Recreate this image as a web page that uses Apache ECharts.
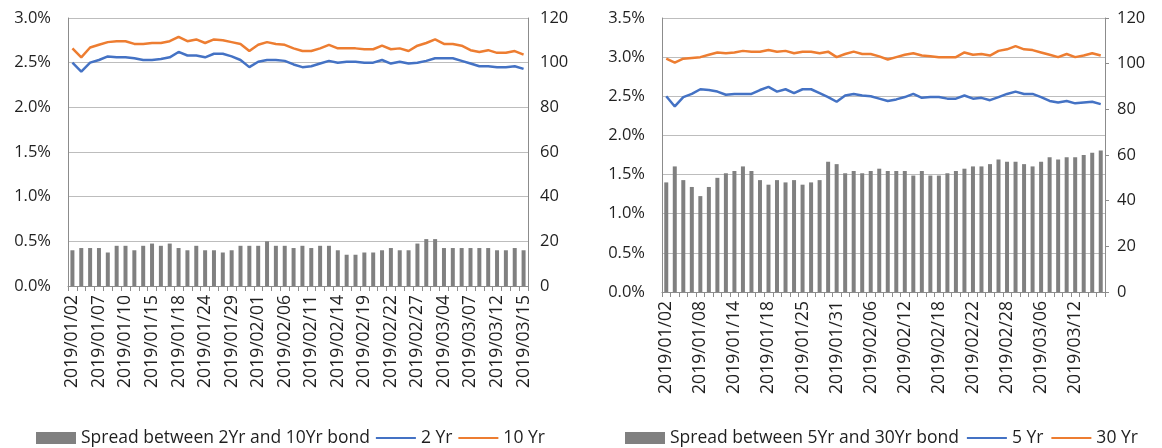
<!DOCTYPE html>
<html>
<head>
<meta charset="utf-8">
<script src="https://cdn.jsdelivr.net/npm/echarts@6/dist/echarts.min.js"></script>
<style>
html,body{margin:0;padding:0;background:#fff;}
#chart{width:1162px;height:448px;}
</style>
</head>
<body>
<div id="chart"></div>
<script>
var dates = ['2019/01/02','2019/01/03','2019/01/04','2019/01/07','2019/01/08','2019/01/09','2019/01/10','2019/01/11','2019/01/14','2019/01/15','2019/01/16','2019/01/17','2019/01/18','2019/01/22','2019/01/23','2019/01/24','2019/01/25','2019/01/28','2019/01/29','2019/01/30','2019/01/31',
'2019/02/01','2019/02/04','2019/02/05','2019/02/06','2019/02/07','2019/02/08','2019/02/11','2019/02/12','2019/02/13','2019/02/14','2019/02/15','2019/02/18','2019/02/19','2019/02/20','2019/02/21','2019/02/22','2019/02/25','2019/02/26','2019/02/27','2019/02/28',
'2019/03/01','2019/03/04','2019/03/05','2019/03/06','2019/03/07','2019/03/08','2019/03/11','2019/03/12','2019/03/13','2019/03/14','2019/03/15'];

// Left chart (percent for yields, bps for spread)
var spread2y10y = [16,17,17,17,15,18,18,16,18,19,18,19,17,16,18,16,16,15,16,18,18,18,20,18,18,17,18,17,18,18,16,14,14,15,15,16,17,16,16,19,21,21,17,17,17,17,17,17,16,16,17,16];
var yield2y = [2.50,2.40,2.50,2.53,2.57,2.56,2.56,2.55,2.53,2.53,2.54,2.56,2.62,2.58,2.58,2.56,2.60,2.60,2.57,2.53,2.45,2.51,2.53,2.53,2.52,2.48,2.45,2.46,2.49,2.52,2.50,2.51,2.51,2.50,2.50,2.53,2.49,2.51,2.49,2.50,2.52,2.55,2.55,2.55,2.52,2.49,2.46,2.46,2.45,2.45,2.46,2.43];
var yield10y = [2.66,2.56,2.67,2.70,2.73,2.74,2.74,2.71,2.71,2.72,2.72,2.74,2.79,2.74,2.76,2.72,2.76,2.75,2.73,2.71,2.63,2.70,2.73,2.71,2.70,2.66,2.63,2.63,2.66,2.70,2.66,2.66,2.66,2.65,2.65,2.69,2.65,2.66,2.63,2.69,2.72,2.76,2.71,2.71,2.69,2.64,2.62,2.64,2.61,2.61,2.63,2.59];

// Right chart
var spread5y30y = [48,55,49,46,42,46,50,52,53,55,53,49,47,49,48,49,47,48,49,57,56,52,53,52,53,54,53,53,53,51,53,51,51,52,53,54,55,55,56,58,57,57,56,55,57,59,58,59,59,60,61,62];
var yield5y = [2.50,2.37,2.49,2.53,2.59,2.58,2.56,2.52,2.53,2.53,2.53,2.58,2.62,2.56,2.59,2.54,2.59,2.59,2.54,2.49,2.43,2.51,2.53,2.51,2.50,2.47,2.44,2.46,2.49,2.53,2.48,2.49,2.49,2.47,2.47,2.51,2.47,2.48,2.45,2.49,2.53,2.56,2.53,2.53,2.49,2.44,2.42,2.44,2.41,2.42,2.43,2.40];
var yield30y = [2.98,2.93,2.98,2.99,3.00,3.03,3.06,3.05,3.06,3.08,3.07,3.07,3.09,3.07,3.08,3.05,3.07,3.07,3.05,3.07,3.00,3.04,3.07,3.04,3.04,3.01,2.97,3.00,3.03,3.05,3.02,3.01,3.00,3.00,3.00,3.06,3.03,3.04,3.02,3.08,3.10,3.14,3.10,3.09,3.06,3.03,3.00,3.04,3.00,3.02,3.05,3.02];

var names = {
  s1: 'Spread between 2Yr and 10Yr bond', a1: '2 Yr', b1: '10 Yr',
  s2: 'Spread between 5Yr and 30Yr bond', a2: '5 Yr', b2: '30 Yr'
};

var FONT = '"Open Sans"';
var TXT = '#1f1f1f';
var AXIS = '#8c8c8c';
var GRIDC = '#bdbdbd';
var BARC = '#808080';
var BLUE = '#4472C4';
var ORANGE = '#ED7D31';

function pct(v){ return v.toFixed(1) + '%'; }

function xAxisCfg(gi, labelInterval){
  return {
    type: 'category', gridIndex: gi, data: dates, boundaryGap: true,
    axisLine: {show: true, lineStyle: {color: AXIS, width: 1}},
    axisTick: {show: true, interval: 0, length: 5, lineStyle: {color: AXIS}},
    axisLabel: {interval: labelInterval, rotate: 90, fontSize: 17.5, fontFamily: FONT, color: TXT, margin: 9},
    splitLine: {show: false}
  };
}

function lineLegend(name){
  return {name: name, itemStyle: {opacity: 0}};
}

var chart = echarts.init(document.getElementById('chart'), null, {renderer: 'canvas'});
chart.setOption({
  animation: false,
  backgroundColor: '#fff',
  grid: [
    {left: 68, top: 18, width: 460, height: 268, containLabel: false},
    {left: 662, top: 18, width: 443, height: 274, containLabel: false}
  ],
  xAxis: [xAxisCfg(0, 2), xAxisCfg(1, 3)],
  yAxis: [
    {type: 'value', gridIndex: 0, position: 'left', min: 0, max: 3, interval: 0.5,
     axisLine: {show: true, lineStyle: {color: AXIS}}, axisTick: {show: false},
     axisLabel: {formatter: pct, fontSize: 16.5, fontFamily: FONT, color: TXT, margin: 17},
     splitLine: {show: true, lineStyle: {color: GRIDC, width: 1}}},
    {type: 'value', gridIndex: 0, position: 'right', min: 0, max: 120, interval: 20,
     axisLine: {show: true, lineStyle: {color: AXIS}}, axisTick: {show: false},
     axisLabel: {fontSize: 16.5, fontFamily: FONT, color: TXT, margin: 12},
     splitLine: {show: false}},
    {type: 'value', gridIndex: 1, position: 'left', min: 0, max: 3.5, interval: 0.5,
     axisLine: {show: true, lineStyle: {color: AXIS}}, axisTick: {show: false},
     axisLabel: {formatter: pct, fontSize: 16.5, fontFamily: FONT, color: TXT, margin: 17},
     splitLine: {show: true, lineStyle: {color: GRIDC, width: 1}}},
    {type: 'value', gridIndex: 1, position: 'right', min: 0, max: 120, interval: 20,
     axisLine: {show: true, lineStyle: {color: AXIS}}, axisTick: {show: true, length: 4, lineStyle: {color: AXIS}},
     axisLabel: {fontSize: 16.5, fontFamily: FONT, color: TXT, margin: 12},
     splitLine: {show: false}}
  ],
  legend: [
    {left: 31, top: 424, itemWidth: 40, itemHeight: 12, itemGap: 5,
     textStyle: {fontSize: 17.5, fontFamily: FONT, color: TXT},
     data: [{name: names.s1, icon: 'rect'}, lineLegend(names.a1), lineLegend(names.b1)]},
    {left: 620, top: 424, itemWidth: 40, itemHeight: 12, itemGap: 7,
     textStyle: {fontSize: 17.5, fontFamily: FONT, color: TXT},
     data: [{name: names.s2, icon: 'rect'}, lineLegend(names.a2), lineLegend(names.b2)]}
  ],
  series: [
    {name: names.s1, type: 'bar', xAxisIndex: 0, yAxisIndex: 1, data: spread2y10y,
     barWidth: 4, itemStyle: {color: BARC}},
    {name: names.a1, type: 'line', xAxisIndex: 0, yAxisIndex: 0, data: yield2y,
     symbol: 'none', lineStyle: {color: BLUE, width: 2.5}, itemStyle: {color: BLUE}},
    {name: names.b1, type: 'line', xAxisIndex: 0, yAxisIndex: 0, data: yield10y,
     symbol: 'none', lineStyle: {color: ORANGE, width: 2.5}, itemStyle: {color: ORANGE}},
    {name: names.s2, type: 'bar', xAxisIndex: 1, yAxisIndex: 3, data: spread5y30y,
     barWidth: 4, itemStyle: {color: BARC}},
    {name: names.a2, type: 'line', xAxisIndex: 1, yAxisIndex: 2, data: yield5y,
     symbol: 'none', lineStyle: {color: BLUE, width: 2.5}, itemStyle: {color: BLUE}},
    {name: names.b2, type: 'line', xAxisIndex: 1, yAxisIndex: 2, data: yield30y,
     symbol: 'none', lineStyle: {color: ORANGE, width: 2.5}, itemStyle: {color: ORANGE}}
  ]
});
</script>
</body>
</html>
